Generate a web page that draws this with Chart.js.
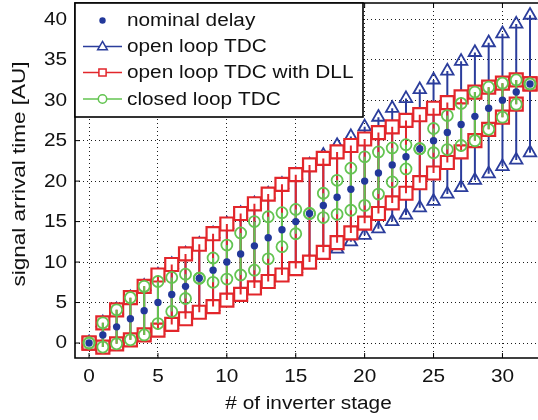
<!DOCTYPE html>
<html>
<head>
<meta charset="utf-8">
<script src="https://cdn.jsdelivr.net/npm/chart.js@4.4.1/dist/chart.umd.min.js"></script>
<style>
  html, body { margin: 0; padding: 0; background: #ffffff; overflow: hidden; }
  #wrap { position: relative; width: 538px; height: 420px; }
</style>
</head>
<body>
<div id="wrap"><canvas id="chart"></canvas></div>
<script>
// Inverter stage index
const stages = [0,1,2,3,4,5,6,7,8,9,10,11,12,13,14,15,16,17,18,19,20,21,22,23,24,25,26,27,28,29,30,31,32];

// Nominal signal arrival time per stage
const nominalDelay = [0,1,2,3,4,5,6,7,8,9,10,11,12,13,14,15,16,17,18,19,20,21,22,23,24,25,26,27,28,29,30,31,32];

// Open loop TDC: upper / lower bounds of arrival time
const openLoopUpper = [0,2.5,4.1,5.6,7.0,8.4,9.7,11.0,12.2,13.5,14.7,16.0,17.2,18.4,19.6,20.8,22.0,23.2,24.4,25.5,26.7,27.9,29.0,30.2,31.3,32.5,33.6,34.8,35.9,37.1,38.2,39.4,40.5];
const openLoopLower = [0,-0.5,-0.1,0.4,1.0,1.6,2.3,3.0,3.8,4.5,5.3,6.0,6.8,7.6,8.4,9.2,10.0,10.8,11.6,12.5,13.3,14.1,15.0,15.8,16.7,17.5,18.4,19.2,20.1,20.9,21.8,22.6,23.5];

// Open loop TDC with DLL: upper / lower bounds
const dllUpper = [0,2.5,4.1,5.6,7.0,8.4,9.7,11.0,12.2,13.5,14.7,16.0,17.2,18.4,19.6,20.8,22.0,22.8,23.6,24.4,25.2,26.0,26.7,27.5,28.2,29.0,29.7,30.4,31.0,31.6,32.1,32.5,32.0];
const dllLower = [0,-0.5,-0.1,0.4,1.0,1.6,2.3,3.0,3.8,4.5,5.3,6.0,6.8,7.6,8.4,9.2,10.0,11.2,12.4,13.6,14.8,16.0,17.3,18.5,19.8,21.0,22.3,23.6,25.0,26.4,27.9,29.5,32.0];

// Closed loop TDC: upper / lower bounds
const closedUpper = [0,2.5,4.1,5.6,7.0,7.6,8.1,8.5,8.0,10.5,12.1,13.6,15.0,15.6,16.1,16.5,16.0,18.5,20.1,21.6,23.0,23.6,24.1,24.5,24.0,26.5,28.1,29.6,31.0,31.6,32.1,32.5,32.0];
const closedLower = [0,-0.5,-0.1,0.4,1.0,2.4,3.9,5.5,8.0,7.5,7.9,8.4,9.0,10.4,11.9,13.5,16.0,15.5,15.9,16.4,17.0,18.4,19.9,21.5,24.0,23.5,23.9,24.4,25.0,26.4,27.9,29.5,32.0];

// Axis ticks and labels
const xTicks = [0,5,10,15,20,25,30];
const yTicks = [0,5,10,15,20,25,30,35,40];
const seriesLabels = ['nominal delay', 'open loop TDC', 'open loop TDC with DLL', 'closed loop TDC'];
const xTitle = '# of inverter stage';
const yTitle = 'signal arrival time [AU]';

const BLUE = '#2b3d9c';
const DOT = '#22389a';
const RED = '#e2262b';
const GREEN = '#63c451';
const INK = '#111111';
const FONT = '"Liberation Sans", Arial, Helvetica, sans-serif';
const WIDE = 1.155;   // horizontal widening of the lettering

// vertical bar from upper to lower at each stage, broken between stages
function bars(upper, lower) {
  const pts = [];
  stages.forEach((s, i) => {
    pts.push({x: s, y: upper[i]}, {x: s, y: lower[i]}, {x: s, y: null});
  });
  return pts;
}
function points(values) {
  return stages.map((s, i) => ({x: s, y: values[i]}));
}

const datasets = [
  { // nominal delay dots (top-most)
    label: seriesLabels[0], order: 1, showLine: false,
    data: points(nominalDelay),
    pointStyle: 'circle', pointRadius: 3.7, pointBackgroundColor: DOT, pointBorderColor: DOT, pointBorderWidth: 0
  },
  { // closed loop bars with circles
    label: seriesLabels[3], order: 2, showLine: true, spanGaps: false,
    data: bars(closedUpper, closedLower),
    borderColor: GREEN, borderWidth: 2,
    pointStyle: 'circle', pointRadius: 5.5, pointBorderWidth: 1.8,
    pointBorderColor: GREEN, pointBackgroundColor: 'rgba(0,0,0,0)'
  },
  { // DLL bars
    label: seriesLabels[2] + ' bars', order: 3, showLine: true, spanGaps: false,
    data: bars(dllUpper, dllLower),
    borderColor: RED, borderWidth: 2, pointRadius: 0
  },
  { // DLL squares
    label: seriesLabels[2], order: 4, showLine: false,
    data: points(dllUpper).concat(points(dllLower)),
    pointStyle: 'rect', pointRadius: 9.2, pointBorderWidth: 2.2,
    pointBorderColor: RED, pointBackgroundColor: '#ffffff'
  },
  { // open loop bars with triangles
    label: seriesLabels[1], order: 5, showLine: true, spanGaps: false,
    data: bars(openLoopUpper, openLoopLower),
    borderColor: BLUE, borderWidth: 2,
    pointStyle: 'triangle', pointRadius: 7.2, pointBorderWidth: 1.8,
    pointBorderColor: BLUE, pointBackgroundColor: 'rgba(0,0,0,0)'
  }
];

function marker(ctx, style, x, y, r, stroke, fill, lw) {
  ctx.save();
  ctx.lineWidth = lw;
  ctx.strokeStyle = stroke;
  ctx.fillStyle = fill;
  ctx.beginPath();
  if (style === 'circle') {
    ctx.arc(x, y, r, 0, Math.PI * 2);
  } else if (style === 'rect') {
    ctx.rect(x - r, y - r, 2 * r, 2 * r);
  } else if (style === 'triangle') {
    ctx.moveTo(x, y - r);
    ctx.lineTo(x + r * Math.sin(Math.PI * 2 / 3), y - r * Math.cos(Math.PI * 2 / 3));
    ctx.lineTo(x + r * Math.sin(Math.PI * 4 / 3), y - r * Math.cos(Math.PI * 4 / 3));
    ctx.closePath();
  }
  if (fill) ctx.fill();
  if (lw > 0) ctx.stroke();
  ctx.restore();
}

// widened text, optionally rotated, anchored at (x, y)
function label(ctx, text, x, y, opts) {
  const o = Object.assign({ size: 18, align: 'center', baseline: 'middle', angle: 0, wide: WIDE }, opts);
  ctx.save();
  ctx.translate(x, y);
  ctx.rotate(o.angle);
  ctx.scale(o.wide, 1);
  ctx.font = o.size + 'px ' + FONT;
  ctx.fillStyle = INK;
  ctx.textAlign = o.align;
  ctx.textBaseline = o.baseline;
  ctx.fillText(text, 0, 0);
  ctx.restore();
}

// axis frame, inward tick marks, tick labels, axis titles and the boxed legend
const frameAndLegend = {
  id: 'frameAndLegend',
  afterDatasetsDraw(chart) {
    const {ctx, chartArea: a, scales: {x, y}} = chart;
    ctx.save();
    ctx.strokeStyle = '#000';
    ctx.lineWidth = 1.6;
    ctx.beginPath();
    ctx.moveTo(a.right + 2, a.top);
    ctx.lineTo(a.left, a.top);
    ctx.lineTo(a.left, a.bottom);
    ctx.lineTo(a.right + 2, a.bottom);
    ctx.stroke();

    ctx.lineWidth = 1;
    ctx.beginPath();
    xTicks.forEach(v => {
      const px = x.getPixelForValue(v);
      ctx.moveTo(px, a.bottom); ctx.lineTo(px, a.bottom - 5);
      ctx.moveTo(px, a.top); ctx.lineTo(px, a.top + 5);
    });
    yTicks.forEach(v => {
      const py = y.getPixelForValue(v);
      ctx.moveTo(a.left, py); ctx.lineTo(a.left + 5, py);
    });
    ctx.stroke();

    // tick labels
    xTicks.forEach(v => label(ctx, String(v), x.getPixelForValue(v), a.bottom + 19));
    yTicks.forEach(v => label(ctx, String(v), a.left - 8, y.getPixelForValue(v) + 0.5, { align: 'right' }));

    // axis titles
    label(ctx, xTitle, (a.left + a.right) / 2 + 2, 404);
    label(ctx, yTitle, 20.5, 174, { angle: -Math.PI / 2, wide: 1.25 });

    // legend box
    const bx = a.left, by = a.top, bw = 288, bh = 114;
    ctx.fillStyle = '#ffffff';
    ctx.fillRect(bx, by, bw, bh);
    ctx.lineWidth = 1.6;
    ctx.strokeStyle = '#000';
    ctx.strokeRect(bx, by, bw, bh);

    const rows = [by + 17.5, by + 43.5, by + 69.5, by + 96];
    const x0 = bx + 8, x1 = bx + 47, xm = (x0 + x1) / 2;
    const lineColors = [null, BLUE, RED, GREEN];
    lineColors.forEach((c, i) => {
      if (!c) return;
      ctx.strokeStyle = c;
      ctx.lineWidth = 1.5;
      ctx.beginPath();
      ctx.moveTo(x0, rows[i]); ctx.lineTo(x1, rows[i]);
      ctx.stroke();
    });
    marker(ctx, 'circle', xm, rows[0], 3.2, DOT, DOT, 0);
    marker(ctx, 'triangle', xm, rows[1] + 0.5, 5.6, BLUE, '#ffffff', 1.5);
    marker(ctx, 'rect', xm, rows[2], 3.6, RED, '#ffffff', 1.5);
    marker(ctx, 'circle', xm, rows[3], 4.2, GREEN, '#ffffff', 1.5);

    seriesLabels.forEach((t, i) => label(ctx, t, bx + 52, rows[i] + 1, { align: 'left' }));
    ctx.restore();
  }
};

new Chart(document.getElementById('chart'), {
  type: 'scatter',
  data: { datasets },
  options: {
    animation: false,
    responsive: true,
    maintainAspectRatio: false,
    layout: { autoPadding: false, padding: { top: 3, right: 0, left: 0, bottom: 0 } },
    plugins: { legend: { display: false }, tooltip: { enabled: false } },
    elements: { line: { tension: 0 } },
    scales: {
      x: {
        type: 'linear', min: -1.02, max: 32.58,
        afterBuildTicks: s => { s.ticks = xTicks.map(v => ({ value: v })); },
        afterFit: s => { s.height = 62; s.paddingLeft = 0; s.paddingRight = 0; },
        grid: { color: '#1c1c1c', lineWidth: 1, drawTicks: false },
        border: { display: false, dash: [1, 3] },
        ticks: { display: false },
        title: { display: false, text: xTitle }
      },
      y: {
        type: 'linear', min: -1.85, max: 42,
        afterBuildTicks: s => { s.ticks = yTicks.map(v => ({ value: v })); },
        afterFit: s => { s.width = 75; s.paddingTop = 0; s.paddingBottom = 0; },
        grid: { color: '#1c1c1c', lineWidth: 1, drawTicks: false },
        border: { display: false, dash: [1, 3] },
        ticks: { display: false },
        title: { display: false, text: yTitle }
      }
    }
  },
  plugins: [frameAndLegend]
});
</script>
</body>
</html>
